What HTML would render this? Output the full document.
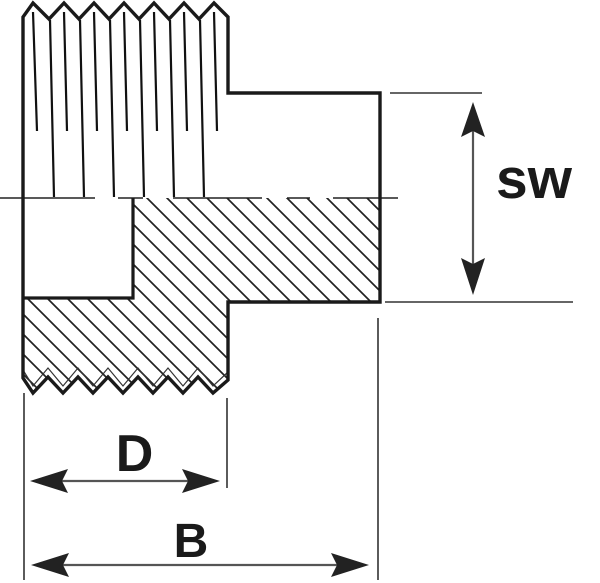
<!DOCTYPE html>
<html><head><meta charset="utf-8"><style>
html,body{margin:0;padding:0;background:#fff;}
svg{display:block;}
text{font-family:"Liberation Sans",Arial,sans-serif;font-weight:bold;fill:#1a1a1a;}
</style></head><body>
<svg width="600" height="583" viewBox="0 0 600 583" xmlns="http://www.w3.org/2000/svg">
<defs>
<pattern id="h" patternUnits="userSpaceOnUse" width="20" height="20" x="9" y="0">
<path d="M-5,-5 L25,25 M-5,15 L5,25 M15,-5 L25,5" stroke="#222" stroke-width="1.7"/>
</pattern>
<clipPath id="c">
<path d="M133,198 L380,198 L380,302 L228,302 L228,380 L213,393 L198,377 L183,393 L168,377 L153,393 L138,377 L123,393 L108,377 L93,393 L78,377 L63,393 L48,377 L33,393 L23,378 L23,298 L133,298 Z"/>
</clipPath>
</defs>
<rect width="600" height="583" fill="#fff"/>
<!-- hatch -->
<rect x="0" y="190" width="400" height="220" fill="url(#h)" clip-path="url(#c)"/>
<!-- thread lines upper -->
<g stroke="#111" stroke-width="2.2" fill="none">
<path d="M50,20 L54,197 M80,20 L84,197 M110,20 L114,197 M140,20 L144,197 M170,20 L174,197 M200,20 L204,197"/>
<path d="M33,12 L37,131 M64,12 L67,131 M94,12 L97,131 M124,12 L127,131 M154,12 L157,131 M184,12 L187,131 M214,12 L217,131"/>
</g>
<!-- inner thin zigzag bottom -->
<path d="M23,370 L33,386 L48,368 L63,386 L78,368 L93,386 L108,368 L123,386 L138,368 L153,386 L168,368 L183,386 L198,368 L213,386 L228,372" stroke="#333" stroke-width="1.2" fill="none"/>
<!-- center line -->
<g stroke="#222" stroke-width="1.6">
<path d="M0,198 H95 M118,198 H143 M173,198 H262 M287,198 H310 M333,198 H398"/>
</g>
<!-- outline -->
<path d="M23,378 L23,17 L33,3 L49,19 L64,3 L79,19 L94,3 L109,19 L124,3 L139,19 L154,3 L169,19 L184,3 L199,19 L214,3 L228,17 L228,93 L380,93 L380,302 L228,302 L228,380 L213,393 L198,377 L183,393 L168,377 L153,393 L138,377 L123,393 L108,377 L93,393 L78,377 L63,393 L48,377 L33,393 L23,378 Z" stroke="#1a1a1a" stroke-width="3.4" fill="none" stroke-linejoin="miter"/>
<path d="M23,298 L133,298 L133,198" stroke="#1a1a1a" stroke-width="3.2" fill="none"/>
<!-- dimension lines -->
<g stroke="#333" stroke-width="1.6">
<path d="M390,93 H482 M385,302 H573 M378,318 V580 M24,393 V580 M227,398 V488"/>
</g>
<g stroke="#555" stroke-width="2.2">
<path d="M473,128 V268 M60,481 H192 M60,565 H342"/>
</g>
<g fill="#222">
<path d="M473,102 L461,137 L473,131 L485,137 Z"/>
<path d="M473,295 L461,258 L473,264 L485,258 Z"/>
<path d="M30,481 L68,469 L62,481 L68,493 Z"/>
<path d="M220,481 L182,469 L188,481 L182,493 Z"/>
<path d="M31,565 L69,553 L63,565 L69,577 Z"/>
<path d="M369,565 L331,553 L337,565 L331,577 Z"/>
</g>
<text x="534" y="198" font-size="57" text-anchor="middle">sw</text>
<text x="134.5" y="471" font-size="52" text-anchor="middle">D</text>
<text x="191" y="557" font-size="48" text-anchor="middle">B</text>
</svg>
</body></html>
